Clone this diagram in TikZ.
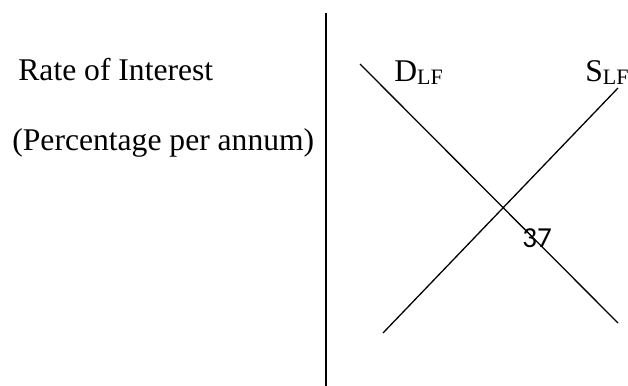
\documentclass[tikz,border=0pt]{standalone}
\usepackage{fontspec}
\setmainfont{Liberation Serif}
\newfontfamily\numfont{Carlito}
\newcommand{\lbltext}{\fontsize{15.8}{19}\selectfont}
\newcommand{\sublf}{\raisebox{-1.5pt}{\fontsize{11}{12}\selectfont LF}}
\begin{document}
\begin{tikzpicture}[x=0.5pt,y=0.5pt,yscale=-1]
\useasboundingbox (0,0) rectangle (628,386);
\tikzset{curve/.style={line width=0.65pt}, axis/.style={line width=1pt}, lbl/.style={anchor=base west,inner sep=0pt,font=\lbltext}}

%Straight Lines (axis)
\coordinate (axtop) at (326,13);
\coordinate (axbot) at (326,386);
\draw [axis] (axtop) -- (axbot) ;
%Straight Lines (demand)
\coordinate (dlf1) at (360,64);
\coordinate (dlf2) at (618,323);
\draw [curve] (dlf1) -- (dlf2) ;
%Straight Lines (supply)
\coordinate (slf1) at (383,333);
\coordinate (slf2) at (618,88);
\draw [curve] (slf1) -- (slf2) ;

% Text Node
\node [lbl] (rate) at (18,80) {Rate of Interest};
% Text Node
\node [lbl] (pct) at (12,150) {(Percentage per annum)};
% Text Node
\node [lbl] (dlab) at (394,81) {D\sublf};
% Text Node
\node [lbl] (slab) at (585,81) {S\sublf};
% Text Node
\node [anchor=base west,inner sep=0pt,font=\numfont\fontsize{14.5}{17}\selectfont] (num) at (522,247) {37};

\end{tikzpicture}
\end{document}
